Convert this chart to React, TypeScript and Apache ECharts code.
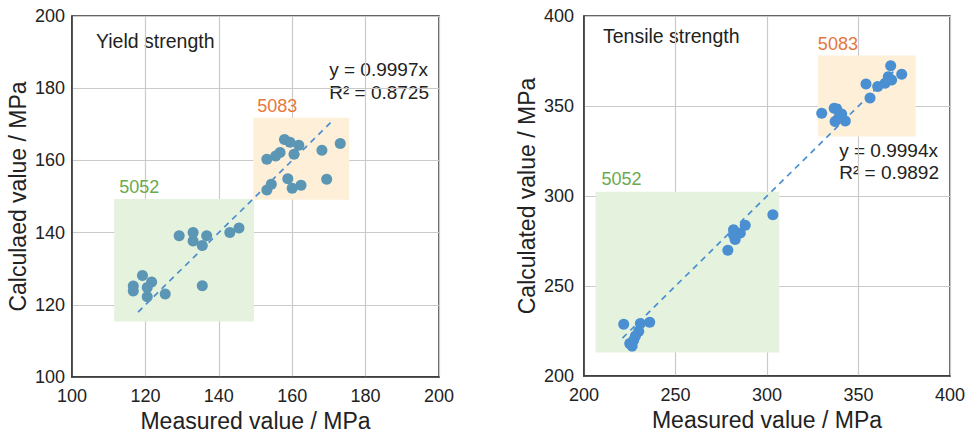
import React, { useEffect, useRef } from "react";
import * as echarts from "echarts";

// Yield strength (left panel): [measured, calculated]
const yield5083: number[][] = [
  [157.9, 165.8], [159.4, 165.0], [161.8, 164.2], [156.7, 162.2], [155.5, 161.2],
  [160.5, 161.7], [153.1, 160.3], [168.1, 162.8], [173.1, 164.7], [158.8, 154.9],
  [154.3, 153.4], [153.1, 151.8], [160.0, 152.3], [162.4, 153.1], [169.4, 154.8],
];
const yield5052: number[][] = [
  [129.2, 139.1], [133.0, 140.0], [133.0, 137.7], [136.7, 139.1], [135.5, 136.4],
  [143.0, 140.0], [145.5, 141.3], [119.2, 128.1], [116.7, 125.2], [116.7, 123.8],
  [121.7, 126.3], [120.5, 124.8], [120.5, 122.2], [125.4, 123.0], [135.5, 125.3],
];
// Tensile strength (right panel)
const tensile5083: number[][] = [
  [367.6, 372.4], [373.6, 367.6], [354.1, 362.2], [360.5, 360.8], [364.5, 362.6],
  [366.3, 366.3], [368.1, 364.5], [356.3, 354.5], [329.9, 346.0], [336.7, 348.8],
  [338.1, 348.4], [340.8, 345.5], [337.2, 341.4], [342.8, 341.7], [339.0, 343.2],
];
const tensile5052: number[][] = [
  [303.2, 289.6], [288.1, 283.7], [281.7, 281.3], [285.4, 279.5], [282.6, 275.8],
  [278.6, 269.9], [281.7, 278.5], [221.7, 228.7], [235.9, 229.9], [230.8, 229.2],
  [229.9, 224.9], [228.1, 222.2], [227.2, 220.0], [225.0, 218.1], [226.3, 216.6],
];
const yieldFit: number[][] = [[118, 118], [171.2, 171.2]];
const tensileFit: number[][] = [[221, 221], [371, 371]];

// group boxes: [x1, y1, x2, y2]
const yieldBox5052 = [111.5, 149.3, 149.6, 115.4];
const yieldBox5083 = [149.4, 171.8, 175.5, 149.1];
const tensileBox5052 = [206.3, 302.4, 306.7, 213];
const tensileBox5083 = [327.8, 378, 381.2, 333];

const FONT = "'Liberation Sans', Arial, Helvetica, sans-serif";
const TXT = "#222";

function axisCommon(min: number, max: number, interval: number, labelMargin: number) {
  return {
    type: "value" as const,
    min,
    max,
    interval,
    axisLine: { show: true, onZero: false, lineStyle: { color: "#333", width: 1.5 } },
    axisTick: { show: false },
    splitLine: { show: true, lineStyle: { color: "#cacaca", width: 1.2 } },
    axisLabel: { color: TXT, fontSize: 18, fontFamily: FONT, margin: labelMargin },
    nameTextStyle: { color: TXT, fontSize: 23, fontFamily: FONT },
  };
}

function area(box: number[], color: string, text: string, textColor: string, off: number[]) {
  return [
    {
      coord: [box[0], box[1]],
      itemStyle: { color },
      label: {
        show: true,
        formatter: text,
        position: off,
        color: textColor,
        fontSize: 18,
        fontFamily: FONT,
      },
    },
    { coord: [box[2], box[3]] },
  ];
}

export default function App() {
  const ref = useRef<HTMLDivElement>(null);
  useEffect(() => {
    if (!ref.current) return;
    const chart = echarts.init(ref.current, undefined, { renderer: "svg" });
    const green = "#e5f2dd";
    const orange = "#fdefd8";
    const greenT = "#6aaa4f";
    const orangeT = "#e8773c";
    chart.setOption({
      animation: false,
      backgroundColor: "#fff",
      textStyle: { fontFamily: FONT },
      grid: [
        { left: 72, top: 16, width: 367, height: 361, show: true, borderColor: "#333", borderWidth: 1.5, backgroundColor: "transparent" },
        { left: 584, top: 16, width: 366, height: 360, show: true, borderColor: "#333", borderWidth: 1.5, backgroundColor: "transparent" },
      ],
      xAxis: [
        { ...axisCommon(100, 200, 20, 10), gridIndex: 0, name: "Measured value / MPa", nameLocation: "middle", nameGap: 29 },
        { ...axisCommon(200, 400, 50, 10), gridIndex: 1, name: "Measured value / MPa", nameLocation: "middle", nameGap: 30 },
      ],
      yAxis: [
        { ...axisCommon(100, 200, 20, 7), gridIndex: 0, name: "Calculaed value / MPa", nameLocation: "middle", nameGap: 43 },
        { ...axisCommon(200, 400, 50, 10), gridIndex: 1, name: "Calculated value / MPa", nameLocation: "middle", nameGap: 46 },
      ],
      series: [
        {
          type: "scatter", xAxisIndex: 0, yAxisIndex: 0, data: [], silent: true,
          markArea: { silent: true, data: [area(yieldBox5052, green, "5052", greenT, [5, -21]), area(yieldBox5083, orange, "5083", orangeT, [4, -21])] },
        },
        {
          type: "scatter", xAxisIndex: 1, yAxisIndex: 1, data: [], silent: true,
          markArea: { silent: true, data: [area(tensileBox5052, green, "5052", greenT, [6, -22]), area(tensileBox5083, orange, "5083", orangeT, [0, -21])] },
        },
        { type: "line", xAxisIndex: 0, yAxisIndex: 0, data: yieldFit, symbol: "none", lineStyle: { color: "#4a8fd0", width: 1.7, type: [6, 5] }, z: 3 },
        { type: "line", xAxisIndex: 1, yAxisIndex: 1, data: tensileFit, symbol: "none", lineStyle: { color: "#4a8fd0", width: 1.7, type: [6, 5] }, z: 3 },
        { type: "scatter", xAxisIndex: 0, yAxisIndex: 0, data: yield5083, symbolSize: 11, itemStyle: { color: "#5b96b4", opacity: 1 }, z: 4 },
        { type: "scatter", xAxisIndex: 0, yAxisIndex: 0, data: yield5052, symbolSize: 11, itemStyle: { color: "#5b96b4", opacity: 1 }, z: 4 },
        { type: "scatter", xAxisIndex: 1, yAxisIndex: 1, data: tensile5083, symbolSize: 11, itemStyle: { color: "#4a8fd1", opacity: 1 }, z: 4 },
        { type: "scatter", xAxisIndex: 1, yAxisIndex: 1, data: tensile5052, symbolSize: 11, itemStyle: { color: "#4a8fd1", opacity: 1 }, z: 4 },
      ],
      graphic: [
        { type: "text", left: 96, top: 31, style: { text: "Yield strength", fill: TXT, fontSize: 19.5, fontFamily: FONT } },
        { type: "text", left: 603, top: 26, style: { text: "Tensile strength", fill: TXT, fontSize: 19.5, fontFamily: FONT } },
        { type: "text", right: 971 - 429, top: 58, style: { text: "y = 0.9997x\nR² = 0.8725", fill: TXT, fontSize: 19, lineHeight: 23, align: "right", fontFamily: FONT } },
        { type: "text", right: 971 - 939, top: 139, style: { text: "y = 0.9994x\nR² = 0.9892", fill: TXT, fontSize: 19, lineHeight: 22, align: "right", fontFamily: FONT } },
      ],
    });
    return () => chart.dispose();
  }, []);
  return <div ref={ref} style={{ position: "fixed", left: 0, top: 0, width: 971, height: 439 }} />;
}
